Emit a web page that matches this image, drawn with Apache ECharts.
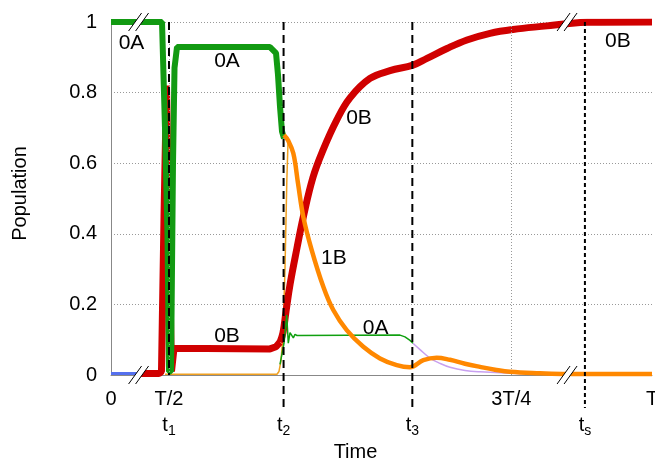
<!DOCTYPE html>
<html>
<head>
<meta charset="utf-8">
<script src="https://cdn.jsdelivr.net/npm/echarts@6/dist/echarts.min.js"></script>
<style>
  html, body { margin: 0; background: #fff; }
  #chart { width: 655px; height: 460px; }
</style>
</head>
<body>
<div id="chart"></div>
<script>
// x is a display coordinate: 0 at t = 0, 100 at t = T (axis is broken twice)
const tickPos = [0, 10.72, 74.0, 100];
const tickText = ['0', 'T/2', '3T/4', 'T'];
const markPos = [10.72, 31.9, 55.7, 87.6];
const markText = ['1', '2', '3', 's'];
const gridPos = [10.72, 74.0];
const breakPts = [[5.1, 0], [5.1, 1], [84.3, 0], [84.3, 1]];

const blue0 = [[0, 0.004], [5.6, 0.004]];
const green0A = [[0, 1], [9.43, 1], [9.98, 0.7], [10.44, 0.4], [10.72, 0.01], [11.09, 0.01],
  [11.46, 0.6], [11.74, 0.87], [12.2, 0.929], [29.39, 0.929], [30.5, 0.912], [30.87, 0.85],
  [31.24, 0.76], [31.61, 0.69], [31.98, 0.67]];
const green0Athin = [[31.24, 0.03], [31.98, 0.09], [32.48, 0.17], [32.77, 0.09], [33.09, 0.12],
  [33.4, 0.119], [33.7, 0.105], [34.01, 0.115], [34.38, 0.112], [53.42, 0.113], [54.34, 0.108],
  [55.27, 0.098], [55.82, 0.09]];
const lilac = [[55.82, 0.09], [57.12, 0.072], [58.96, 0.048], [60.81, 0.033], [62.66, 0.022],
  [65.43, 0.013], [68.21, 0.009], [73.75, 0.005], [79.3, 0.004], [84.29, 0.003], [100, 0.003]];
const red0B = [[5.1, 0.004], [8.87, 0.004], [9.33, 0.01], [9.8, 0.45], [10.26, 0.82], [10.72, 0.4],
  [11.18, 0.01], [11.65, 0.076], [29.39, 0.074], [30.5, 0.08], [31.24, 0.093]];
const red0Brise = [[31.24, 0.093], [31.79, 0.12], [32.35, 0.18], [33.09, 0.256], [34.38, 0.36],
  [35.55, 0.448], [37.34, 0.56], [39.19, 0.637], [41.72, 0.722], [44.18, 0.785], [47.87, 0.84],
  [51.57, 0.862], [55.82, 0.878], [58.41, 0.897], [62.11, 0.925], [65.8, 0.949], [70.06, 0.968],
  [74.31, 0.979], [80.59, 0.989], [84.29, 0.995], [88, 0.999], [100, 1]];
const orange1Bthin = [[9.98, 0.002], [30.68, 0.002], [31.05, 0.01], [31.42, 0.04], [31.79, 0.11],
  [32.16, 0.3], [32.5, 0.55], [32.72, 0.66]];
const orange1B = [[31.98, 0.68], [32.72, 0.665], [33.7, 0.628],
  [34.57, 0.543], [35.55, 0.448], [37.1, 0.354], [39.25, 0.25], [41.09, 0.184],
  [43.57, 0.127], [46.64, 0.08], [49.72, 0.047], [52.81, 0.028], [55.27, 0.022],
  [57.73, 0.042], [60.2, 0.049], [62.66, 0.043], [65.43, 0.032], [68.21, 0.023], [70.98, 0.015],
  [73.75, 0.009], [79.3, 0.005], [84.29, 0.003], [100, 0.003]];

const annoX = [3.79, 21.44, 21.44, 45.84, 41.2, 48.9, 93.7];
const annoY = [0.939, 0.888, 0.109, 0.728, 0.331, 0.132, 0.947];
const annoText = ['0A', '0A', '0B', '0B', '1B', '0A', '0B'];

const font = "'Liberation Sans', Arial, sans-serif";
const markExt = [0, 37, 37, 33];
const markDash = [[8, 5], [8, 5], [8, 5], [4, 3]];

function line(data, color, width, z, smooth) {
  return {
    type: 'line', data: data, showSymbol: false, symbol: 'none', z: z,
    smooth: smooth || false,
    lineStyle: { color: color, width: width }, silent: true
  };
}

const chart = echarts.init(document.getElementById('chart'));
chart.setOption({
  animation: false,
  textStyle: { fontFamily: font },
  grid: { left: 111, right: 3, top: 22, bottom: 85, outerBoundsMode: 'none', containLabel: false },
  xAxis: [{
    type: 'value', min: 0, max: 100,
    axisLine: { lineStyle: { color: '#888', width: 1 } },
    axisTick: { show: false },
    splitLine: { show: false },
    axisLabel: {
      customValues: tickPos, fontSize: 20, color: '#000', margin: 14, fontFamily: font,
      formatter: v => tickText[tickPos.indexOf(v)]
    }
  }, {
    type: 'value', min: 0, max: 100, position: 'bottom', offset: 25,
    axisLine: { show: false }, axisTick: { show: false }, splitLine: { show: false },
    name: 'Time', nameLocation: 'middle', nameGap: 40,
    nameTextStyle: { fontSize: 20, color: '#000', fontFamily: font, padding: [0, 52, 0, 0] },
    axisLabel: {
      customValues: markPos, margin: 12, fontFamily: font,
      formatter: v => '{t|t}{s|' + markText[markPos.indexOf(v)] + '}',
      rich: {
        t: { fontSize: 20, color: '#000', fontFamily: font },
        s: { fontSize: 14, color: '#000', fontFamily: font, padding: [12, 0, 0, 0] }
      }
    }
  }],
  yAxis: [{
    type: 'value', min: 0, max: 1, interval: 0.2,
    name: 'Population', nameLocation: 'middle', nameGap: 81,
    nameTextStyle: { fontSize: 20, color: '#000', fontFamily: font, padding: [0, 0, 0, 10] },
    axisLine: { show: true, lineStyle: { color: '#888', width: 1 } },
    axisTick: { show: false },
    axisLabel: { fontSize: 20, color: '#000', margin: 14, fontFamily: font, formatter: v => String(+v.toFixed(1)) },
    splitLine: { lineStyle: { color: '#999', width: 1, type: [1, 2] } }
  }, {
    type: 'value', min: 0, max: 1, position: 'right',
    axisLine: { show: true, lineStyle: { color: '#888', width: 1 } },
    axisTick: { show: false }, axisLabel: { show: false }, splitLine: { show: false }
  }],
  series: [
    Object.assign(line(blue0, '#5570ee', 3, 2), {
      markLine: {
        silent: true, symbol: 'none', label: { show: false },
        lineStyle: { color: '#999', width: 1, type: [1, 2] },
        data: gridPos.map(x => ({ xAxis: x }))
      }
    }),
    line(lilac, '#c8a0f0', 1.5, 2, 0.4),
    line(orange1Bthin, '#f0a020', 1.5, 2),
    line(red0B, '#d00000', 7, 3),
    line(red0Brise, '#d00000', 7, 3, 0.4),
    line(green0Athin, '#10a010', 1.5, 4),
    line(green0A, '#129a12', 6, 4),
    line(orange1B, '#ff8800', 4.5, 5, 0.4),
    {
      type: 'custom', z: 10, silent: true, clip: false,
      data: markPos.map(x => [x]),
      renderItem: function (params, api) {
        const x = api.value(0);
        const top = api.coord([x, 1]);
        const bot = api.coord([x, 0]);
        const i = params.dataIndex;
        return {
          type: 'line',
          shape: { x1: top[0], y1: top[1], x2: top[0], y2: bot[1] + markExt[i] },
          style: { stroke: '#000', lineWidth: 2, lineDash: markDash[i] }
        };
      }
    },
    {
      type: 'custom', z: 11, silent: true, clip: false,
      data: breakPts,
      renderItem: function (params, api) {
        const c = api.coord([api.value(0), api.value(1)]);
        const dx = 6.5, dy = 9;
        return {
          type: 'group',
          children: [{
            type: 'polygon',
            shape: { points: [[c[0] - dx - 3.5, c[1] + dy], [c[0] - dx + 3.5, c[1] + dy], [c[0] + dx + 3.5, c[1] - dy], [c[0] + dx - 3.5, c[1] - dy]] },
            style: { fill: '#fff' }
          }, {
            type: 'line',
            shape: { x1: c[0] - dx - 3.5, y1: c[1] + dy, x2: c[0] + dx - 3.5, y2: c[1] - dy },
            style: { stroke: '#000', lineWidth: 1 }
          }, {
            type: 'line',
            shape: { x1: c[0] - dx + 3.5, y1: c[1] + dy, x2: c[0] + dx + 3.5, y2: c[1] - dy },
            style: { stroke: '#000', lineWidth: 1 }
          }]
        };
      }
    },
    {
      type: 'scatter', z: 12, silent: true, symbolSize: 0,
      itemStyle: { color: '#000' },
      data: annoX.map((x, i) => [x, annoY[i], annoText[i]]),
      label: {
        show: true, position: 'inside', fontSize: 21, color: '#000', fontFamily: font,
        textBorderWidth: 0, opacity: 1,
        formatter: p => p.value[2]
      }
    }
  ]
});
</script>
</body>
</html>
